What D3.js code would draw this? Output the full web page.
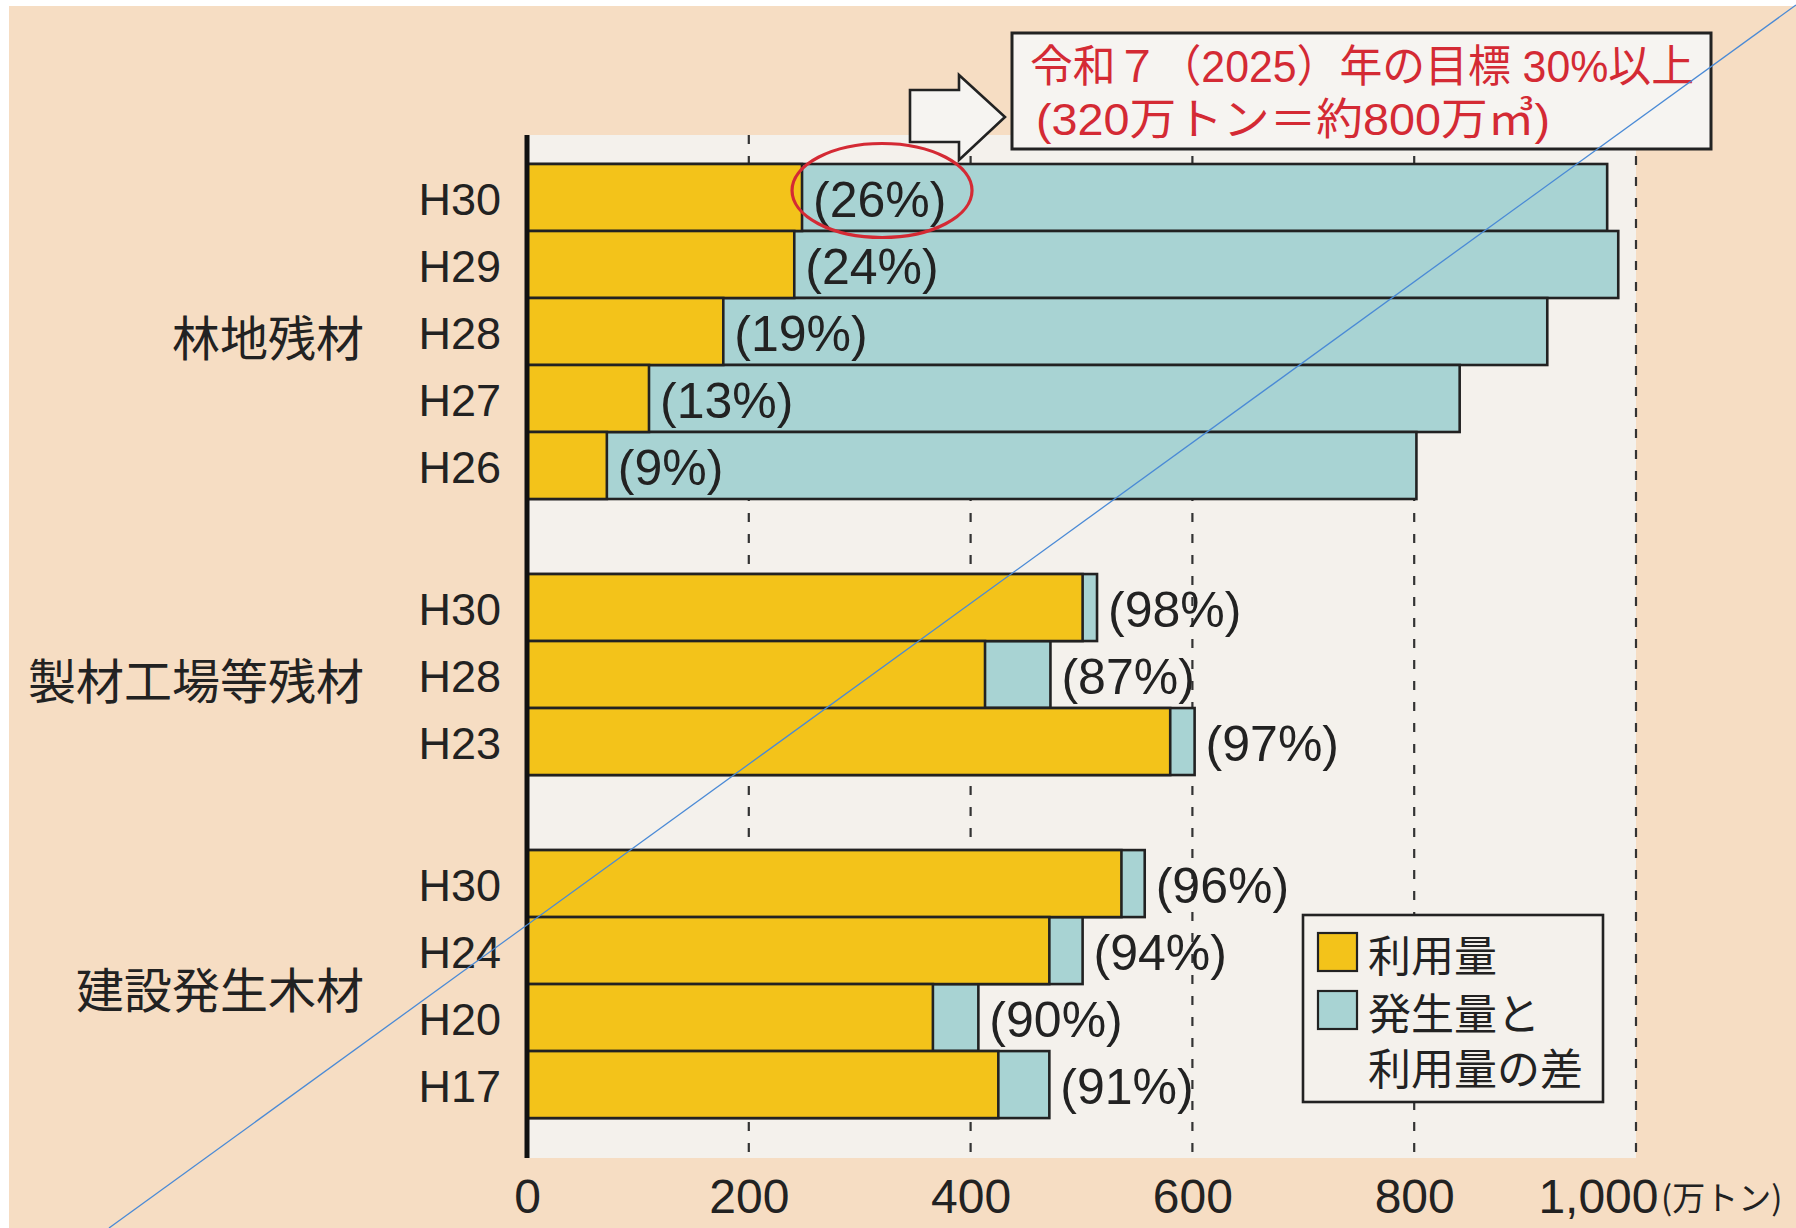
<!DOCTYPE html>
<html><head><meta charset="utf-8">
<script src="https://cdn.jsdelivr.net/npm/d3@7"></script>
<style>html,body{margin:0;padding:0;background:#fff;}svg{display:block;}</style>
</head><body>
<svg id="chart" width="1796" height="1228"></svg>
<script>
// ---- data ----
const groups = ["林地残材", "製材工場等残材", "建設発生木材"];
const rowGroup = [0,0,0,0,0, 1,1,1, 2,2,2,2];
const rowYear = ["H30","H29","H28","H27","H26", "H30","H28","H23", "H30","H24","H20","H17"];
const used = [248, 241, 177, 110, 72, 501, 413, 580, 536, 471, 366, 425];       // 利用量
const generated = [974, 984, 920, 841, 802, 514, 472, 602, 557, 501, 407, 471]; // 発生量
const rateLabels = ["(26%)","(24%)","(19%)","(13%)","(9%)","(98%)","(87%)","(97%)","(96%)","(94%)","(90%)","(91%)"];
const xTicks = [0, 200, 400, 600, 800, 1000];
const unitLabel = "(万トン)";
const legendLabels = [["利用量"], ["発生量と", "利用量の差"]];
const targetLines = ["令和７（2025）年の目標 30%以上", "(320万トン＝約800万㎥)"];

// ---- style ----
const C = {
  page: "#f6ddc3", plot: "#f4f1ec", yellow: "#f3c31a", blue: "#a8d3d3",
  ink: "#222", red: "#d42a34"
};
const LATIN = "'Liberation Sans', Arial, 'Noto Sans CJK JP', sans-serif";
const CJK = "'Noto Sans CJK JP', 'Noto Sans CJK SC', sans-serif";

const svg = d3.select("#chart");
svg.append("rect").attr("x", 9).attr("y", 6).attr("width", 1796).attr("height", 1228).attr("fill", C.page);

const gapBands = 1.12;
const nSlots = rowYear.length + (groups.length - 1) * gapBands;
const x = d3.scaleLinear().domain([0, 1000]).range([527, 1636]);
const y = d3.scaleLinear().domain([0, nSlots]).range([164, 164 + nSlots * 67]);
const pos = i => i + rowGroup[i] * gapBands;
const bh = y(1) - y(0);
const plotTop = 135, plotBottom = 1158;

// plot background
svg.append("rect").attr("x", x(0)).attr("y", plotTop).attr("width", x(1000) - x(0))
  .attr("height", plotBottom - plotTop).attr("fill", C.plot);

// dashed grid
svg.append("g").selectAll("line").data(xTicks.filter(d => d > 0)).join("line")
  .attr("x1", d => x(d)).attr("x2", d => x(d)).attr("y1", plotTop).attr("y2", plotBottom)
  .attr("stroke", "#333").attr("stroke-width", 2.2).attr("stroke-dasharray", "9,12");

// bars
const rows = d3.range(rowYear.length);
const bars = svg.append("g");
bars.selectAll("rect.gen").data(rows).join("rect").attr("class", "gen")
  .attr("x", x(0)).attr("y", i => y(pos(i))).attr("height", bh)
  .attr("width", i => x(generated[i]) - x(0))
  .attr("fill", C.blue).attr("stroke", C.ink).attr("stroke-width", 2.6);
bars.selectAll("rect.used").data(rows).join("rect").attr("class", "used")
  .attr("x", x(0)).attr("y", i => y(pos(i))).attr("height", bh)
  .attr("width", i => x(used[i]) - x(0))
  .attr("fill", C.yellow).attr("stroke", C.ink).attr("stroke-width", 2.6);

// percentage labels
svg.append("g").selectAll("text").data(rows).join("text")
  .attr("x", i => (rowGroup[i] === 0 ? x(used[i]) : x(generated[i])) + 11)
  .attr("y", i => y(pos(i)) + bh / 2 + 2)
  .attr("dominant-baseline", "central")
  .attr("font-family", LATIN).attr("font-size", 50).attr("fill", C.ink)
  .text(i => rateLabels[i]);

// year labels
svg.append("g").selectAll("text").data(rows).join("text")
  .attr("x", 501).attr("y", i => y(pos(i)) + bh / 2 + 2)
  .attr("text-anchor", "end").attr("dominant-baseline", "central")
  .attr("font-family", LATIN).attr("font-size", 45).attr("fill", C.ink)
  .text(i => rowYear[i]);

// group labels
svg.append("g").selectAll("text").data(groups).join("text")
  .attr("x", 364)
  .attr("y", (g, gi) => {
    const idx = rows.filter(i => rowGroup[i] === gi);
    return (y(pos(idx[0])) + y(pos(idx[idx.length - 1]) + 1)) / 2 + 3;
  })
  .attr("text-anchor", "end").attr("dominant-baseline", "central")
  .attr("font-family", CJK).attr("font-size", 48).attr("fill", C.ink)
  .text(d => d);

// left axis line
svg.append("line").attr("x1", x(0)).attr("x2", x(0)).attr("y1", plotTop).attr("y2", plotBottom)
  .attr("stroke", "#111").attr("stroke-width", 5);

// bottom axis (labels only)
const ax = svg.append("g").attr("transform", `translate(0,${plotBottom})`)
  .call(d3.axisBottom(x).tickValues(xTicks).tickSize(0).tickPadding(21).tickFormat(d3.format(",")));
ax.select(".domain").remove();
ax.selectAll("text").attr("font-family", LATIN).attr("font-size", 48).attr("fill", C.ink);
ax.selectAll(".tick").filter(d => d === 1000).select("text").attr("text-anchor", "end").attr("x", 22);
ax.append("text").attr("x", x(1000) + 25).attr("y", 38).attr("dominant-baseline", "central")
  .attr("text-anchor", "start")
  .attr("font-family", CJK).attr("font-size", 33).attr("fill", C.ink).text(unitLabel);

// legend
const lg = svg.append("g");
lg.append("rect").attr("x", 1303).attr("y", 915).attr("width", 300).attr("height", 187)
  .attr("fill", C.plot).attr("stroke", C.ink).attr("stroke-width", 2.6);
const legendColors = [C.yellow, C.blue];
const legendTop = [933, 991];
legendLabels.forEach((lines, k) => {
  lg.append("rect").attr("x", 1318).attr("y", legendTop[k]).attr("width", 39).attr("height", 38)
    .attr("fill", legendColors[k]).attr("stroke", C.ink).attr("stroke-width", 2.2);
  lines.forEach((t, j) => {
    lg.append("text").attr("x", 1368).attr("y", legendTop[k] + 20 + j * 55)
      .attr("dominant-baseline", "central").attr("font-family", CJK).attr("font-size", 43)
      .attr("fill", C.ink).text(t);
  });
});

// target annotation: arrow + box
svg.append("path")
  .attr("d", "M910,90 L959,90 L959,75 L1005,117 L959,160 L959,142 L910,142 Z")
  .attr("fill", "#f6f4f1").attr("stroke", C.ink).attr("stroke-width", 2.6).attr("stroke-linejoin", "miter");
svg.append("rect").attr("x", 1012).attr("y", 33).attr("width", 699).attr("height", 116)
  .attr("fill", "#f6f4f1").attr("stroke", C.ink).attr("stroke-width", 3);
const tl = [{t: targetLines[0], x: 1030, y: 66, len: 664}, {t: targetLines[1], x: 1036, y: 119, len: 514}];
svg.append("g").selectAll("text").data(tl).join("text")
  .attr("x", d => d.x).attr("y", d => d.y).attr("dominant-baseline", "central")
  .attr("font-family", "'Liberation Sans', 'Noto Sans CJK JP', sans-serif").attr("font-size", 44)
  .attr("fill", C.red).attr("textLength", d => d.len).attr("lengthAdjust", "spacingAndGlyphs")
  .text(d => d.t);

// red ellipse around the first row's rate
svg.append("ellipse").attr("cx", x(used[0]) + 80).attr("cy", y(pos(0)) + bh / 2 - 7)
  .attr("rx", 90).attr("ry", 47).attr("fill", "none").attr("stroke", C.red).attr("stroke-width", 3.2);

// thin diagonal overlay line present in the reference image
svg.append("line").attr("x1", 109).attr("y1", 1228).attr("x2", 1796).attr("y2", 5)
  .attr("stroke", "#4a8ad6").attr("stroke-width", 1.3);
</script>
</body></html>
